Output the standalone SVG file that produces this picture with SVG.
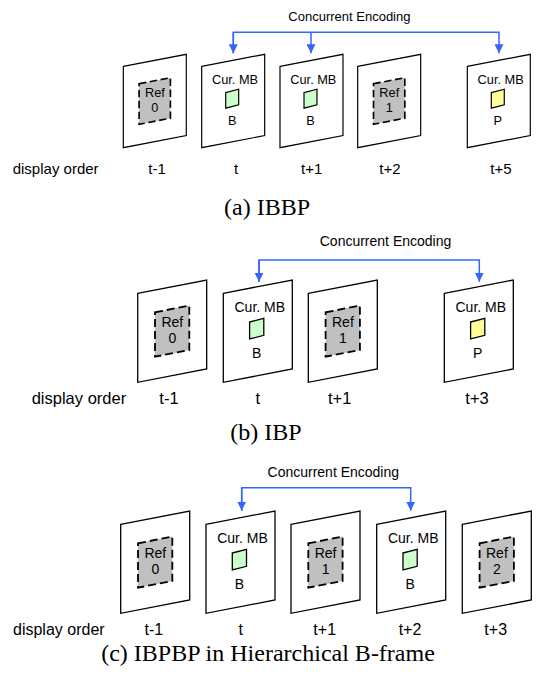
<svg xmlns="http://www.w3.org/2000/svg" xmlns:xlink="http://www.w3.org/1999/xlink" width="536" height="677" viewBox="0 0 536 677">
<style>
.fr{fill:#fff;stroke:#000;stroke-width:1.3}
.rb{fill:#c0c0c0;stroke:#000;stroke-width:1.8;stroke-dasharray:8 4}
.mbg{fill:#ccffcc;stroke:#000;stroke-width:1.3}
.mby{fill:#ffff99;stroke:#000;stroke-width:1.3}
.t{font-family:"Liberation Sans",Arial,sans-serif;fill:#000;text-anchor:middle}
.lbl{font-family:"Liberation Sans",Arial,sans-serif;fill:#000}
.cap{font-family:"Liberation Serif","Times New Roman",serif;fill:#000;text-anchor:middle}
.conn{fill:none;stroke:#3366ff;stroke-width:1.5}
</style>
<defs>
<path id="frame" d="M0,13.3 L69,0 L69,89 L0,102.3 Z"/>
<path id="refbox" d="M17.3,32.3 L51.6,25.6 L51.6,70 L17.3,76.7 Z"/>
<path id="mbbox" d="M26.3,42 L40.5,38.3 L40.5,55.3 L26.3,59 Z"/>
<marker id="ah" markerUnits="userSpaceOnUse" markerWidth="9" markerHeight="9" viewBox="0 0 9 9" refX="9" refY="4.5" orient="auto">
<path d="M0,0 L9,4.5 L0,9 Z" fill="#3366ff"/>
</marker>
</defs>

<!-- Panel (a) -->
<g id="a-tm1" transform="translate(123.3,54.3) scale(0.913)">
<use xlink:href="#frame" class="fr"/><use xlink:href="#refbox" class="rb"/>
<text class="t" x="34.6" y="46.7" font-size="14">Ref</text><text class="t" x="34.6" y="63.3" font-size="14">0</text>
</g>
<g id="a-t" transform="translate(201.7,54.3) scale(0.913)">
<use xlink:href="#frame" class="fr"/>
<text class="t" x="36.5" y="32.3" font-size="14">Cur. MB</text>
<use xlink:href="#mbbox" class="mbg"/>
<text class="t" x="33.4" y="77.7" font-size="14">B</text>
</g>
<g id="a-tp1" transform="translate(280,54.3) scale(0.913)">
<use xlink:href="#frame" class="fr"/>
<text class="t" x="36.5" y="32.3" font-size="14">Cur. MB</text>
<use xlink:href="#mbbox" class="mbg"/>
<text class="t" x="33.4" y="77.7" font-size="14">B</text>
</g>
<g id="a-tp2" transform="translate(357.7,54.3) scale(0.913)">
<use xlink:href="#frame" class="fr"/><use xlink:href="#refbox" class="rb"/>
<text class="t" x="34.6" y="46.7" font-size="14">Ref</text><text class="t" x="34.6" y="63.3" font-size="14">1</text>
</g>
<g id="a-tp5" transform="translate(467.3,54.3) scale(0.913)">
<use xlink:href="#frame" class="fr"/>
<text class="t" x="36.5" y="32.3" font-size="14">Cur. MB</text>
<use xlink:href="#mbbox" class="mby"/>
<text class="t" x="33.4" y="77.7" font-size="14">P</text>
</g>
<g id="a-connectors">
<path class="conn" d="M233.3,53.3 V32.3 H499 V53.3" marker-end="url(#ah)"/>
<path class="conn" d="M233.3,32.3 V53.3" marker-end="url(#ah)"/>
<path class="conn" d="M311,32.3 V53.3" marker-end="url(#ah)"/>
</g>
<text class="t" x="349.4" y="20.7" font-size="13">Concurrent Encoding</text>
<g id="a-labels" font-size="15">
<text class="lbl" x="12.7" y="174.3">display order</text>
<text class="t" x="157" y="174.3">t-1</text>
<text class="t" x="236" y="174.3">t</text>
<text class="t" x="311.7" y="174.3">t+1</text>
<text class="t" x="390" y="174.3">t+2</text>
<text class="t" x="501" y="174.3">t+5</text>
</g>
<text class="cap" x="267" y="215" font-size="24">(a) IBBP</text>

<!-- Panel (b) -->
<g id="b-tm1" transform="translate(137.7,280)">
<use xlink:href="#frame" class="fr"/><use xlink:href="#refbox" class="rb"/>
<text class="t" x="34.6" y="46.7" font-size="14">Ref</text><text class="t" x="34.6" y="63.3" font-size="14">0</text>
</g>
<g id="b-t" transform="translate(223.3,280)">
<use xlink:href="#frame" class="fr"/>
<text class="t" x="36.5" y="32.3" font-size="14">Cur. MB</text>
<use xlink:href="#mbbox" class="mbg"/>
<text class="t" x="33.4" y="77.7" font-size="14">B</text>
</g>
<g id="b-tp1" transform="translate(308.3,280)">
<use xlink:href="#frame" class="fr"/><use xlink:href="#refbox" class="rb"/>
<text class="t" x="34.6" y="46.7" font-size="14">Ref</text><text class="t" x="34.6" y="63.3" font-size="14">1</text>
</g>
<g id="b-tp3" transform="translate(444.3,280)">
<use xlink:href="#frame" class="fr"/>
<text class="t" x="36.5" y="32.3" font-size="14">Cur. MB</text>
<use xlink:href="#mbbox" class="mby"/>
<text class="t" x="33.4" y="77.7" font-size="14">P</text>
</g>
<g id="b-connectors">
<path class="conn" d="M259,281.7 V260 H479.3 V281.7" marker-end="url(#ah)"/>
<path class="conn" d="M259,260 V281.7" marker-end="url(#ah)"/>
</g>
<text class="t" x="385.5" y="245.7" font-size="14">Concurrent Encoding</text>
<g id="b-labels" font-size="16.5">
<text class="lbl" x="31.7" y="404.3">display order</text>
<text class="t" x="169" y="404.3">t-1</text>
<text class="t" x="257.7" y="404.3">t</text>
<text class="t" x="339.7" y="404.3">t+1</text>
<text class="t" x="477" y="404.3">t+3</text>
</g>
<text class="cap" x="266" y="440" font-size="24">(b) IBP</text>

<!-- Panel (c) -->
<g id="c-tm1" transform="translate(120.7,511)">
<use xlink:href="#frame" class="fr"/><use xlink:href="#refbox" class="rb"/>
<text class="t" x="34.6" y="46.7" font-size="14">Ref</text><text class="t" x="34.6" y="63.3" font-size="14">0</text>
</g>
<g id="c-t" transform="translate(206,511)">
<use xlink:href="#frame" class="fr"/>
<text class="t" x="36.5" y="32.3" font-size="14">Cur. MB</text>
<use xlink:href="#mbbox" class="mbg"/>
<text class="t" x="33.4" y="77.7" font-size="14">B</text>
</g>
<g id="c-tp1" transform="translate(291,511)">
<use xlink:href="#frame" class="fr"/><use xlink:href="#refbox" class="rb"/>
<text class="t" x="34.6" y="46.7" font-size="14">Ref</text><text class="t" x="34.6" y="63.3" font-size="14">1</text>
</g>
<g id="c-tp2" transform="translate(376.7,511)">
<use xlink:href="#frame" class="fr"/>
<text class="t" x="36.5" y="32.3" font-size="14">Cur. MB</text>
<use xlink:href="#mbbox" class="mbg"/>
<text class="t" x="33.4" y="77.7" font-size="14">B</text>
</g>
<g id="c-tp3" transform="translate(462.3,511)">
<use xlink:href="#frame" class="fr"/><use xlink:href="#refbox" class="rb"/>
<text class="t" x="34.6" y="46.7" font-size="14">Ref</text><text class="t" x="34.6" y="63.3" font-size="14">2</text>
</g>
<g id="c-connectors">
<path class="conn" d="M241.7,510.7 V487.7 H410.7 V510.7" marker-end="url(#ah)"/>
<path class="conn" d="M241.7,487.7 V510.7" marker-end="url(#ah)"/>
</g>
<text class="t" x="333.3" y="476.7" font-size="14">Concurrent Encoding</text>
<g id="c-labels" font-size="16">
<text class="lbl" x="13" y="635">display order</text>
<text class="t" x="153.8" y="635">t-1</text>
<text class="t" x="240.7" y="635">t</text>
<text class="t" x="324.7" y="635">t+1</text>
<text class="t" x="410" y="635">t+2</text>
<text class="t" x="495.7" y="635">t+3</text>
</g>
<text class="cap" x="268" y="661" font-size="24">(c) IBPBP in Hierarchical B-frame</text>
</svg>
